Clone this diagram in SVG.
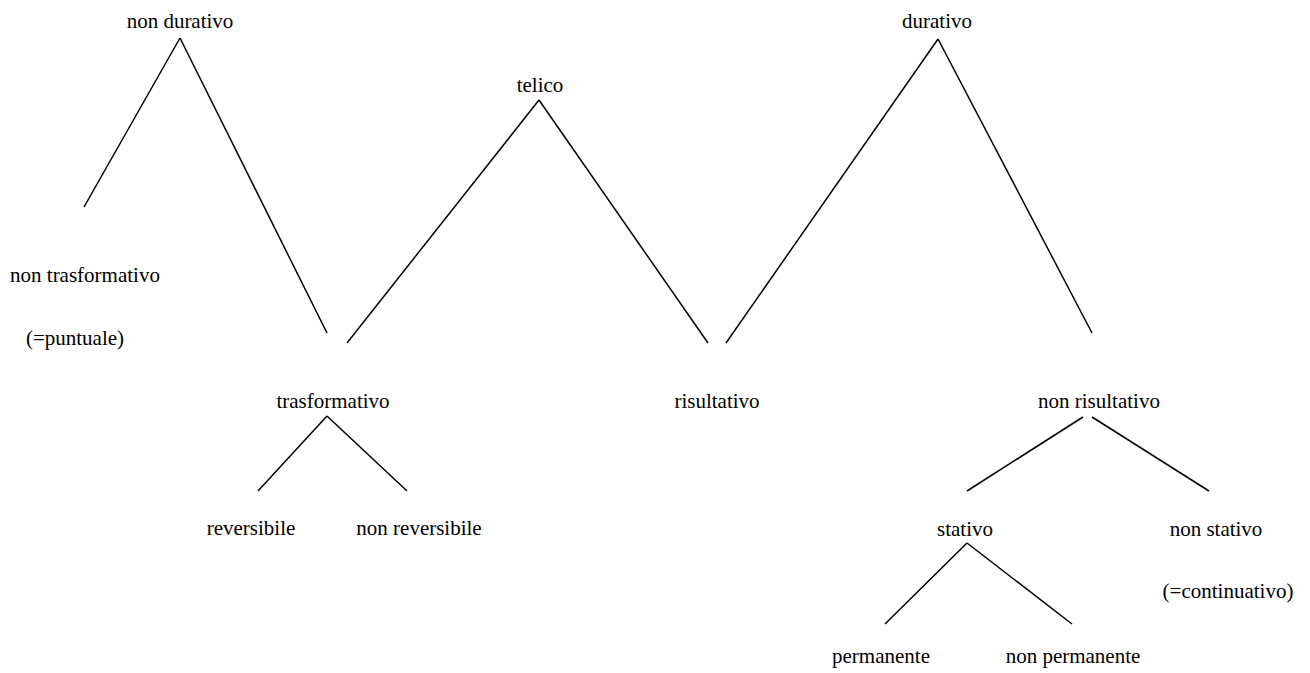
<svg xmlns="http://www.w3.org/2000/svg" width="1310" height="673" viewBox="0 0 1310 673">
<style>
text{font-family:"Liberation Serif","Times New Roman",serif;font-size:21px;fill:#000;text-anchor:middle}
.c line{stroke:#000;stroke-width:1.5;fill:none}
</style>
<rect width="1310" height="673" fill="#fff"/>
<g class="c" id="connectors">
<line x1="180" y1="38" x2="84" y2="207"/>
<line x1="180" y1="38" x2="327" y2="333"/>
<line x1="539" y1="100" x2="347" y2="343"/>
<line x1="539" y1="100" x2="708" y2="343"/>
<line x1="938" y1="39" x2="726" y2="343"/>
<line x1="938" y1="39" x2="1092" y2="333"/>
<line x1="327" y1="416" x2="258" y2="491"/>
<line x1="327" y1="416" x2="407" y2="491"/>
<line x1="1083" y1="417" x2="967" y2="491"/>
<line x1="1092" y1="417" x2="1209" y2="491"/>
<line x1="967" y1="543" x2="885" y2="624"/>
<line x1="967" y1="543" x2="1072" y2="624"/>
</g>
<g id="non-durativo"><text x="180" y="28">non durativo</text></g>
<g id="telico"><text x="540" y="92">telico</text></g>
<g id="durativo"><text x="937" y="28">durativo</text></g>
<g id="non-trasformativo"><text x="85" y="282">non trasformativo</text><text x="75" y="345">(=puntuale)</text></g>
<g id="trasformativo"><text x="333" y="408">trasformativo</text></g>
<g id="risultativo"><text x="717" y="408">risultativo</text></g>
<g id="non-risultativo"><text x="1099" y="408">non risultativo</text></g>
<g id="reversibile"><text x="251" y="535">reversibile</text></g>
<g id="non-reversibile"><text x="419" y="535">non reversibile</text></g>
<g id="stativo"><text x="965" y="536">stativo</text></g>
<g id="non-stativo"><text x="1216" y="536">non stativo</text><text x="1228" y="598">(=continuativo)</text></g>
<g id="permanente"><text x="881" y="663">permanente</text></g>
<g id="non-permanente"><text x="1073" y="663">non permanente</text></g>
</svg>
